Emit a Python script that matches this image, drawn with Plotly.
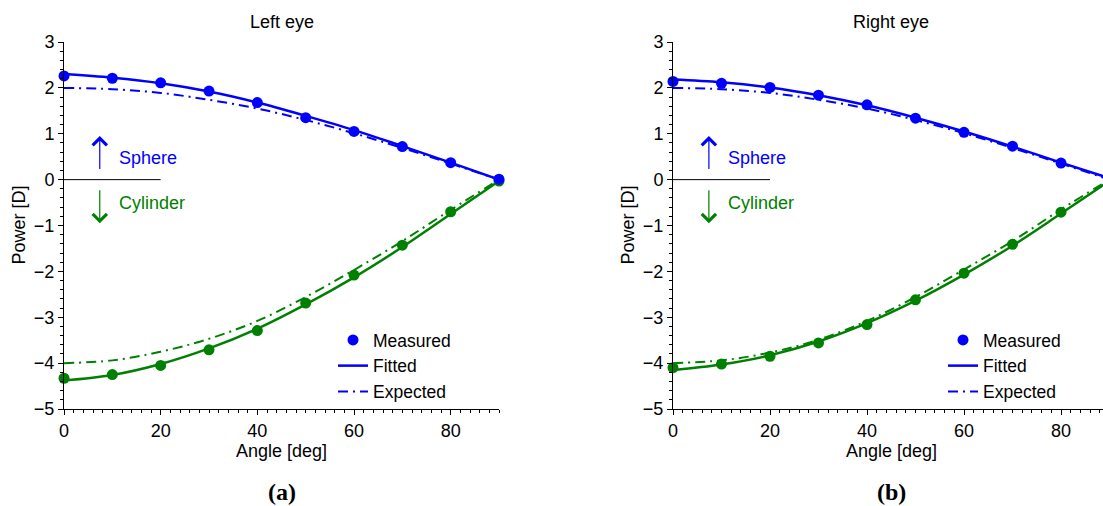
import plotly.graph_objects as go

# ---------------- data ----------------
angles = [0, 10, 20, 30, 40, 50, 60, 70, 80, 90]

left_sph_meas = [2.26, 2.21, 2.11, 1.93, 1.68, 1.35, 1.05, 0.72, 0.37, 0.01]
left_sph_fit = [2.30, 2.22, 2.10, 1.92, 1.68, 1.39, 1.08, 0.73, 0.37, 0.00]
left_sph_exp = [2.00, 1.97, 1.89, 1.74, 1.55, 1.30, 1.01, 0.69, 0.35, 0.00]
left_cyl_meas = [-4.33, -4.25, -4.05, -3.71, -3.29, -2.69, -2.08, -1.43, -0.70, -0.03]
left_cyl_fit = [-4.38, -4.26, -4.02, -3.68, -3.25, -2.72, -2.13, -1.47, -0.75, -0.03]
left_cyl_exp = [-4.00, -3.94, -3.75, -3.47, -3.08, -2.56, -1.97, -1.34, -0.66, 0.00]

right_sph_meas = [2.14, 2.10, 2.01, 1.84, 1.63, 1.34, 1.03, 0.73, 0.36, 0.02]
right_sph_fit = [2.18, 2.12, 2.01, 1.84, 1.62, 1.35, 1.05, 0.72, 0.37, 0.03]
right_sph_exp = [2.00, 1.97, 1.89, 1.74, 1.55, 1.30, 1.01, 0.69, 0.35, 0.00]
right_cyl_meas = [-4.10, -4.02, -3.85, -3.56, -3.16, -2.62, -2.04, -1.41, -0.71, -0.03]
right_cyl_fit = [-4.15, -4.03, -3.83, -3.53, -3.13, -2.64, -2.07, -1.44, -0.74, -0.03]
right_cyl_exp = [-4.00, -3.94, -3.77, -3.49, -3.08, -2.56, -1.96, -1.34, -0.65, 0.00]

panel_titles = ["Left eye", "Right eye"]
captions = ["(a)", "(b)"]
legend_names = ["Measured", "Fitted", "Expected"]
x_tick_vals = [0, 20, 40, 60, 80]
y_tick_vals = [-5, -4, -3, -2, -1, 0, 1, 2, 3]

# ---------------- styling ----------------
BLUE = "#0000ff"
GREEN = "#008000"
FONT = "Liberation Sans, Arial, Helvetica, sans-serif"
FS = 18
LFS = 17.5
DASHDOT = "10px,5px,2px,5px"
W, H = 1103, 506

fig = go.Figure()

panels = [
    ("x", "y", "legend", left_sph_meas, left_sph_fit, left_sph_exp,
     left_cyl_meas, left_cyl_fit, left_cyl_exp),
    ("x2", "y2", "legend2", right_sph_meas, right_sph_fit, right_sph_exp,
     right_cyl_meas, right_cyl_fit, right_cyl_exp),
]

for xa, ya, lg, s_m, s_f, s_e, c_m, c_f, c_e in panels:
    for color, meas, fit, exp in [(GREEN, c_m, c_f, c_e), (BLUE, s_m, s_f, s_e)]:
        fig.add_trace(go.Scatter(x=angles, y=exp, mode="lines", xaxis=xa, yaxis=ya,
                                 line=dict(color=color, width=2, dash=DASHDOT, shape="spline"),
                                 showlegend=False, cliponaxis=False, hoverinfo="skip"))
        fig.add_trace(go.Scatter(x=angles, y=fit, mode="lines", xaxis=xa, yaxis=ya,
                                 line=dict(color=color, width=2.5, shape="spline"),
                                 showlegend=False, cliponaxis=False, hoverinfo="skip"))
        fig.add_trace(go.Scatter(x=angles, y=meas, mode="markers", xaxis=xa, yaxis=ya,
                                 marker=dict(color=color, size=11),
                                 showlegend=False, cliponaxis=False, hoverinfo="skip"))
    # legend entries
    fig.add_trace(go.Scatter(x=[None], y=[None], mode="markers", xaxis=xa, yaxis=ya,
                             marker=dict(color=BLUE, size=11), name=legend_names[0], legend=lg))
    fig.add_trace(go.Scatter(x=[None], y=[None], mode="lines", xaxis=xa, yaxis=ya,
                             line=dict(color=BLUE, width=2.5), name=legend_names[1], legend=lg))
    fig.add_trace(go.Scatter(x=[None], y=[None], mode="lines", xaxis=xa, yaxis=ya,
                             line=dict(color=BLUE, width=2, dash=DASHDOT), name=legend_names[2],
                             legend=lg))

ydom = [1 - 409 / H, 1 - 42 / H]
common_x = dict(showline=True, linecolor="black", linewidth=1, ticks="outside", ticklen=5,
                tickcolor="black", tickwidth=1, tickvals=x_tick_vals, showgrid=False,
                zeroline=False, automargin=False,
                tickfont=dict(family=FONT, size=FS, color="black"),
                minor=dict(dtick=2, tick0=0, ticks="outside", ticklen=3, tickcolor="black",
                           showgrid=False))
common_y = dict(showline=True, linecolor="black", linewidth=1, ticks="outside", ticklen=5,
                tickcolor="black", tickwidth=1, tickvals=y_tick_vals, showgrid=False,
                zeroline=False, automargin=False, range=[-5, 3], domain=ydom,
                tickfont=dict(family=FONT, size=FS, color="black"),
                minor=dict(dtick=0.2, tick0=0, ticks="outside", ticklen=3, tickcolor="black",
                           showgrid=False))

fig.update_layout(
    width=W, height=H, margin=dict(l=0, r=0, t=0, b=0, pad=0, autoexpand=False),
    paper_bgcolor="white", plot_bgcolor="white",
    font=dict(family=FONT, size=FS, color="black"),
    xaxis=dict(domain=[64 / W, 499 / W], range=[0, 90], anchor="y", **common_x),
    yaxis=dict(anchor="x", **common_y),
    xaxis2=dict(domain=[673 / W, 1.0], range=[0, (W - 673) / 4.85], anchor="y2", **common_x),
    yaxis2=dict(anchor="x2", **common_y),
    legend=dict(x=333 / W, y=1 - 322 / H, xanchor="left", yanchor="top",
                bgcolor="rgba(0,0,0,0)", font=dict(family=FONT, size=LFS, color="black"),
                tracegroupgap=0),
    legend2=dict(x=943 / W, y=1 - 322 / H, xanchor="left", yanchor="top",
                 bgcolor="rgba(0,0,0,0)", font=dict(family=FONT, size=LFS, color="black"),
                 tracegroupgap=0),
)

annotations = []
shapes = []
for i, (xa, ya) in enumerate([("x", "y"), ("x2", "y2")]):
    # zero reference line
    shapes.append(dict(type="line", xref=xa, yref=ya, x0=0, x1=20, y0=0, y1=0,
                       line=dict(color="black", width=1)))
    # arrows
    annotations.append(dict(xref=xa, yref=ya, axref=xa, ayref=ya, x=7.4, y=0.95, ax=7.4, ay=0.2,
                            text="", showarrow=True, arrowhead=4, arrowsize=2.3, arrowwidth=1.2,
                            arrowcolor=BLUE))
    annotations.append(dict(xref=xa, yref=ya, axref=xa, ayref=ya, x=7.4, y=-0.95, ax=7.4, ay=-0.2,
                            text="", showarrow=True, arrowhead=4, arrowsize=2.3, arrowwidth=1.2,
                            arrowcolor=GREEN))
    annotations.append(dict(xref=xa, yref=ya, x=11.0, y=0.47, text="Sphere", showarrow=False,
                            xanchor="left", yanchor="middle",
                            font=dict(family=FONT, size=FS, color=BLUE)))
    annotations.append(dict(xref=xa, yref=ya, x=11.0, y=-0.50, text="Cylinder", showarrow=False,
                            xanchor="left", yanchor="middle",
                            font=dict(family=FONT, size=FS, color=GREEN)))
    # titles
    annotations.append(dict(xref=xa, yref="paper", x=45, y=1 - 22 / H, text=panel_titles[i],
                            showarrow=False, xanchor="center", yanchor="middle",
                            font=dict(family=FONT, size=FS, color="black")))
    annotations.append(dict(xref=xa, yref="paper", x=45, y=1 - 439 / H, text="Angle [deg]",
                            showarrow=False, xanchor="center", yanchor="top",
                            font=dict(family=FONT, size=FS, color="black")))
    annotations.append(dict(xref=xa, yref="paper", x=45, y=1 - 492 / H,
                            text="<b>" + captions[i] + "</b>", showarrow=False,
                            xanchor="center", yanchor="middle",
                            font=dict(family="Liberation Serif, DejaVu Serif, serif", size=24,
                                      color="black")))
for xp in [18, 627]:
    annotations.append(dict(xref="paper", yref="paper", x=xp / W, y=1 - 225.5 / H,
                            text="Power [D]", textangle=-90, showarrow=False,
                            xanchor="center", yanchor="middle",
                            font=dict(family=FONT, size=FS, color="black")))

fig.update_layout(annotations=annotations, shapes=shapes)
fig.write_html("out.html")
